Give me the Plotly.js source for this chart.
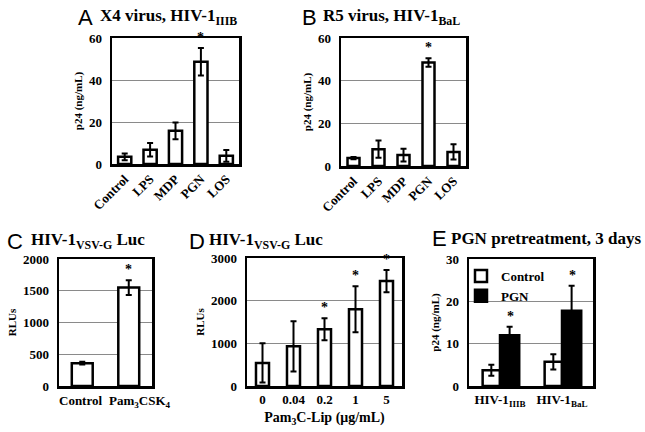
<!DOCTYPE html>
<html>
<head>
<meta charset="utf-8">
<script src="https://cdn.plot.ly/plotly-3.0.1.min.js"></script>
<style>
  html, body { margin: 0; padding: 0; background: #fff; }
  #chart { width: 645px; height: 432px; }
</style>
</head>
<body>
<div id="chart"></div>
<script>
// panel A / B: p24 after TLR ligand stimulation
const ligands = ["Control", "LPS", "MDP", "PGN", "LOS"];
const aMean = [3.4, 6.8, 15.8, 48.7, 3.9];
const aErr = [1.6, 3.2, 4.0, 6.5, 2.8];
const aSig = [false, false, false, true, false];
const bMean = [3.7, 7.9, 5.1, 48.5, 6.6];
const bErr = [0.5, 4.0, 3.0, 2.0, 3.6];
const bSig = [false, false, false, true, false];

// panel C
const cCats = ["Control", "Pam<sub>3</sub>CSK<sub>4</sub>"];
const cMean = [360, 1550];
const cErr = [20, 115];
const cSig = [false, true];

// panel D: dose response
const doses = ["0", "0.04", "0.2", "1", "5"];
const dMean = [540, 930, 1330, 1800, 2460];
const dErr = [460, 590, 260, 540, 260];
const dSig = [false, false, true, true, true];

// panel E
const strains = ["HIV-1<sub>IIIB</sub>", "HIV-1<sub>BaL</sub>"];
const eControl = [3.7, 5.7];
const eControlErr = [1.3, 1.8];
const ePGN = [12.0, 17.8];
const ePGNErr = [2.0, 5.9];
const ePGNSig = [true, true];

const serif = "Liberation Serif, Times New Roman, serif";
const W = 645, H = 432;
const px = (a, b) => [a / W, b / W];
const py = (top, bottom) => [1 - bottom / H, 1 - top / H];

function barTrace(x, y, err, ax, width, extra) {
  return Object.assign({
    type: "bar",
    x: x,
    y: y,
    xaxis: "x" + ax,
    yaxis: "y" + ax,
    width: width,
    marker: { color: "white", line: { color: "black", width: 2.5 } },
    error_y: { type: "data", array: err, color: "black", thickness: 2, width: 3 },
    showlegend: false,
    hoverinfo: "x+y",
  }, extra || {});
}

const traces = [
  barTrace(ligands, aMean, aErr, "", 0.52),
  barTrace(ligands, bMean, bErr, "2", 0.48),
  barTrace(cCats, cMean, cErr, "3", 0.45),
  barTrace(doses, dMean, dErr, "4", 0.42),
  barTrace(strains, eControl, eControlErr, "5", 0.28, {
    name: "Control", offset: -0.28, showlegend: true,
  }),
  barTrace(strains, ePGN, ePGNErr, "5", 0.31, {
    name: "PGN", offset: 0, showlegend: true,
    marker: { color: "black", line: { color: "black", width: 2.5 } },
  }),
];

// asterisks above significant bars (x given as category index)
const annotations = [];
function stars(x, y, err, sig, ax, xshift) {
  x.forEach((c, i) => {
    if (!sig[i]) return;
    annotations.push({
      xref: "x" + ax, yref: "y" + ax,
      x: i, y: y[i] + err[i],
      text: "<b>*</b>", showarrow: false, yanchor: "bottom",
      xshift: xshift || 0, yshift: 1,
      font: { family: serif, size: 14, color: "#000000" },
    });
  });
}
stars(ligands, aMean, aErr, aSig, "");
stars(ligands, bMean, bErr, bSig, "2");
stars(cCats, cMean, cErr, cSig, "3");
stars(doses, dMean, dErr, dSig, "4");
stars(strains, ePGN, ePGNErr, ePGNSig, "5", 10);

// panel C category labels, nudged apart like the original
const cShift = [-2, 11];
cCats.forEach((c, i) => {
  annotations.push({
    xref: "x3", yref: "y3", x: i, y: 0,
    text: "<b>" + c + "</b>", showarrow: false, yanchor: "top",
    xshift: cShift[i], yshift: -5,
    font: { family: serif, size: 13, color: "black" },
  });
});

// panel letters and titles
function label(letter, lx, title, tx, ty) {
  annotations.push({
    xref: "paper", yref: "paper", x: lx / W, y: 1 - ty / H,
    xanchor: "left", yanchor: "middle", showarrow: false,
    text: letter, font: { family: "Liberation Sans, Arial, sans-serif", size: 22, color: "black" },
  });
  annotations.push({
    xref: "paper", yref: "paper", x: tx / W, y: 1 - ty / H,
    xanchor: "left", yanchor: "middle", showarrow: false,
    text: "<b>" + title + "</b>", font: { family: serif, size: 17, color: "black" },
  });
}
label("A", 76, "X4 virus, HIV-1<sub>IIIB</sub>", 98, 17);
label("B", 300, "R5 virus, HIV-1<sub>BaL</sub>", 321, 17);
label("C", 5, "HIV-1<sub>VSV-G</sub> Luc", 29, 241);
label("D", 187, "HIV-1<sub>VSV-G</sub> Luc", 207, 241);
label("E", 430, "PGN pretreatment, 3 days", 449, 238);

function xax(domain, anchor, n, extra) {
  return Object.assign({
    domain: domain, anchor: anchor, type: "category",
    range: [-0.5, n - 0.5], autorange: false,
    showline: true, mirror: true, linecolor: "black", linewidth: 2.5,
    showgrid: false, zeroline: false, ticks: "", tickangle: 0,
    tickfont: { family: serif, size: 13, weight: "bold", color: "black" },
    fixedrange: true,
  }, extra || {});
}
function yax(domain, anchor, range, dtick, title) {
  return {
    domain: domain, anchor: anchor, range: range, autorange: false, dtick: dtick,
    showline: true, mirror: true, linecolor: "black", linewidth: 2.5,
    showgrid: true, gridcolor: "#8a8a8a", gridwidth: 1,
    zeroline: false, ticks: "", ticklabelstandoff: 5,
    tickfont: { family: serif, size: 13, weight: "bold", color: "black" },
    title: { text: "<b>" + title + "</b>", font: { family: serif, size: 11, color: "black" }, standoff: 4 },
    fixedrange: true,
  };
}

const layout = {
  width: W,
  height: H,
  margin: { l: 0, r: 0, t: 0, b: 0 },
  paper_bgcolor: "white",
  plot_bgcolor: "white",
  barmode: "group",
  showlegend: true,
  legend: {
    x: 461 / W, y: 1 - 261 / H, xanchor: "left", yanchor: "top",
    bgcolor: "rgba(0,0,0,0)", borderwidth: 0,
    font: { family: serif, size: 13, weight: "bold", color: "black" },
    itemwidth: 30, tracegroupgap: 0,
  },
  xaxis: xax(px(112, 239), "y", ligands.length, { tickangle: -45 }),
  yaxis: yax(py(38, 164), "x", [0, 60], 20, "p24 (ng/mL)"),
  xaxis2: xax(px(341, 466), "y2", ligands.length, { tickangle: -45 }),
  yaxis2: yax(py(38, 166), "x2", [0, 60], 20, "p24 (ng/mL)"),
  xaxis3: xax(px(59, 152), "y3", cCats.length, { showticklabels: false }),
  yaxis3: yax(py(259, 386), "x3", [0, 2000], 500, "RLUs"),
  xaxis4: xax(px(247, 402), "y4", doses.length, {
    title: { text: "<b>Pam<sub>3</sub>C-Lip (μg/mL)</b>", font: { family: serif, size: 14, color: "black" }, standoff: 6 },
  }),
  yaxis4: yax(py(258, 386), "x4", [0, 3000], 1000, "RLUs"),
  xaxis5: xax(px(469, 593), "y5", strains.length),
  yaxis5: yax(py(259, 386), "x5", [0, 30], 10, "p24 (ng/mL)"),
  annotations: annotations,
};

Plotly.newPlot("chart", traces, layout, { displayModeBar: false, staticPlot: true });
</script>
</body>
</html>
